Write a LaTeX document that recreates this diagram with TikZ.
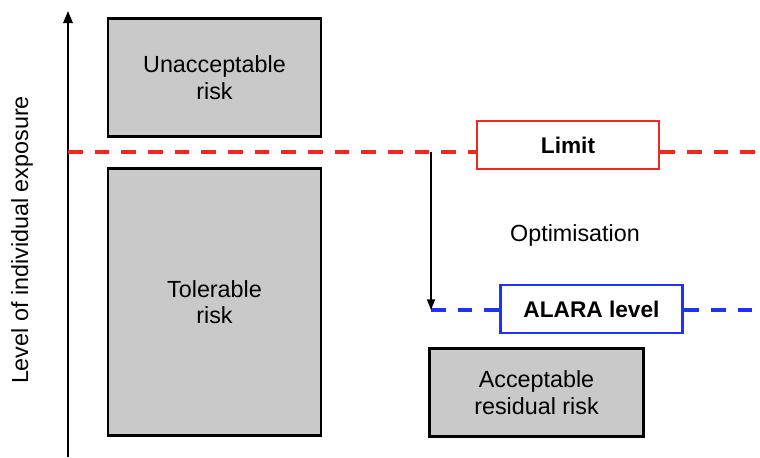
\documentclass[tikz,border=0pt]{standalone}
\usepackage{fontspec}
\setmainfont{Liberation Sans}
\usetikzlibrary{%
  arrows.meta,
  calc
}

\tikzset{
  riskbox/.style={draw=black, fill=black!21, line width=2.2pt, align=center, inner sep=0pt},
  levelbox/.style={draw, fill=white, line width=2.1pt, inner sep=0pt, font=\fontsize{17}{20}\selectfont\bfseries},
  levelline/.style={line width=2.5pt, dash pattern=on 11pt off 9pt}
}

\begin{document}
\begin{tikzpicture}[x=0.75pt, y=-0.75pt, font=\fontsize{17.5}{20}\selectfont]
    \useasboundingbox (0,0) rectangle (760,457);

    % axis
    \coordinate (axbot) at (68,457);
    \coordinate (axtop) at (68,11);
    \draw[-{Triangle[length=9pt,width=7pt]},line width=1.6pt] (axbot) -- (axtop);
    \node[rotate=90] (axlabel) at (22,240) {Level of individual exposure};

    % risk regions
    \node[riskbox, minimum width=159.75pt, minimum height=89pt] (unacc) at (214.5,77.5) {Unacceptable\\risk};
    \node[riskbox, minimum width=159.75pt, minimum height=200.5pt] (toler) at (214.5,302) {Tolerable\\risk};
    \node[riskbox, minimum width=161pt, minimum height=66.5pt] (accept) at (536.5,392.5) {Acceptable\\residual risk};

    % levels
    \node[levelbox, draw={rgb,255:red,240;green,40;blue,30}, minimum width=136.5pt, minimum height=36pt] (limit) at (568,145) {Limit};
    \node[levelbox, draw={rgb,255:red,30;green,50;blue,250}, minimum width=137pt, minimum height=36pt] (alara) at (591.5,309) {ALARA level};

    \coordinate (redL) at (68,152);
    \coordinate (redR) at (760,152);
    \coordinate (optA) at (431,152);
    \coordinate (optB) at (431,310);
    \coordinate (blueR) at (760,310);

    \draw[levelline, color={rgb,255:red,240;green,40;blue,30}] (redL) -- (redL -| limit.west);
    \draw[levelline, color={rgb,255:red,240;green,40;blue,30}] (limit.east |- redR) -- (redR);
    \draw[levelline, color={rgb,255:red,30;green,50;blue,250}] (optB) -- (optB -| alara.west);
    \draw[levelline, color={rgb,255:red,30;green,50;blue,250}] (alara.east |- blueR) -- (blueR);

    % optimisation
    \draw[-{Triangle[length=8pt,width=6pt]},line width=1.1pt] (optA) -- (optB);
    \node (optim) at (575,235) {Optimisation};

\end{tikzpicture}
\end{document}
